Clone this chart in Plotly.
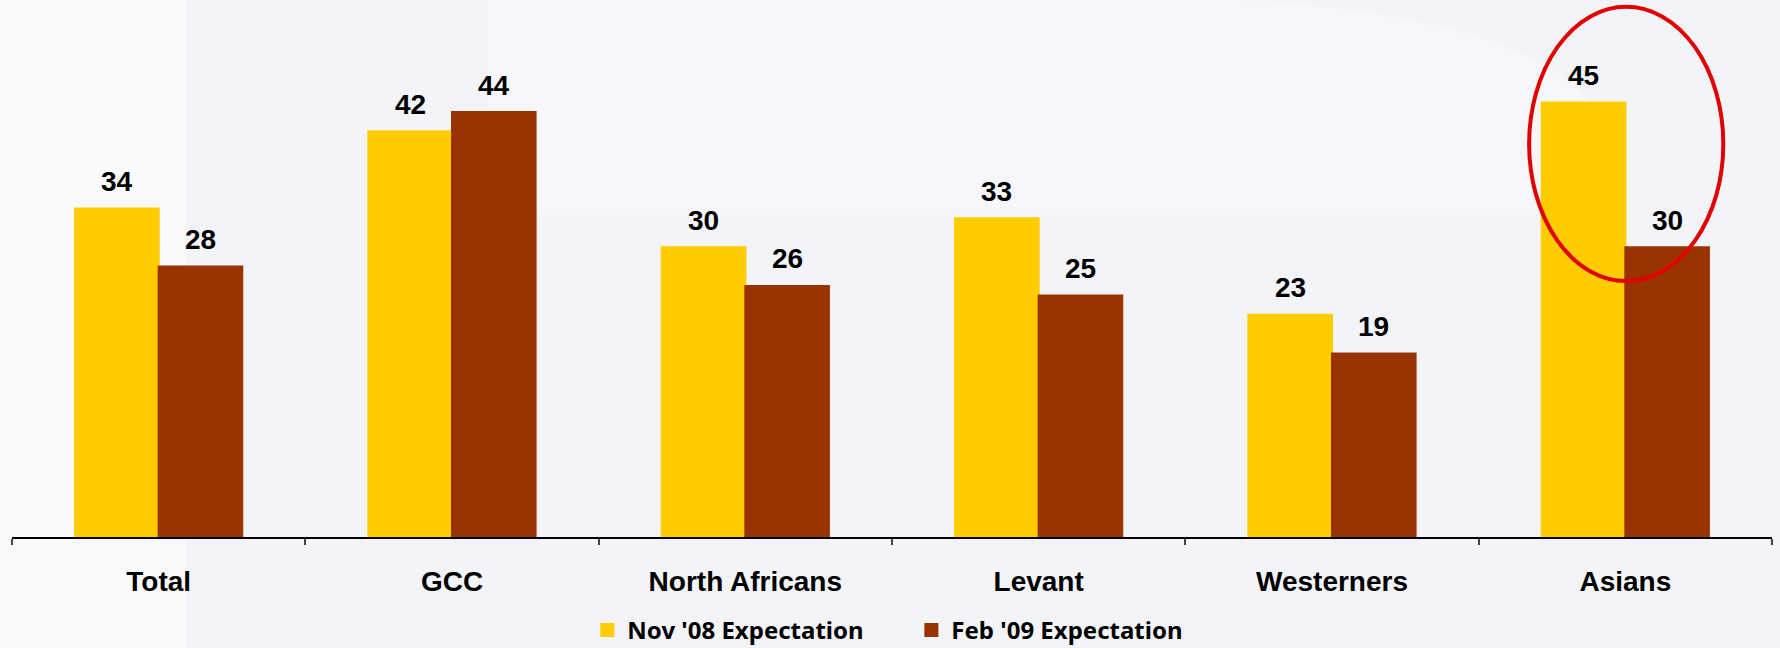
import plotly.graph_objects as go

categories = ["Total", "GCC", "North Africans", "Levant", "Westerners", "Asians"]
nov08 = [34, 42, 30, 33, 23, 45]
feb09 = [28, 44, 26, 25, 19, 30]
series_names = ["Nov '08 Expectation", "Feb '09 Expectation"]
colors = ["#FFCC00", "#993300"]

fig = go.Figure()
for name, vals, col in zip(series_names, [nov08, feb09], colors):
    fig.add_trace(go.Bar(
        x=categories, y=vals, name=name,
        marker=dict(color=col, line=dict(color=col, width=2)),
        hoverinfo="x+y",
    ))

# value labels
half = (1 - 0.43) / 4
for k, vals in enumerate([nov08, feb09]):
    off = -half if k == 0 else half
    for i, v in enumerate(vals):
        fig.add_annotation(
            x=i + off, y=v, text=str(v), showarrow=False,
            yanchor="middle", yshift=27,
            font=dict(family="Liberation Sans, Arial", size=28, color="black", weight="bold"),
        )

shapes = [
    # lighter background regions
    dict(type="rect", xref="paper", yref="paper", x0=-0.01, x1=0.099, y0=-0.3, y1=1.0,
         fillcolor="#f9fafc", line=dict(width=0), layer="below"),
    dict(type="path", xref="paper", yref="paper",
         path="M 0.27,1.0 L 0.70,1.0 Q 0.86,0.97 0.90,0.80 L 0.90,0.60 L 0.27,0.60 Z",
         fillcolor="#f6f7fa", line=dict(width=0), layer="below"),
    # highlight ellipse
    dict(type="circle", xref="x", yref="y", x0=4.672, x1=5.334, y0=26.5, y1=54.9,
         line=dict(color="#e30000", width=4), fillcolor="rgba(0,0,0,0)"),
]

fig.update_layout(
    width=1780, height=648,
    margin=dict(l=12, r=8, t=0, b=111, autoexpand=False),
    paper_bgcolor="#f2f4f8", plot_bgcolor="rgba(0,0,0,0)",
    barmode="group", bargap=0.43, bargroupgap=0,
    shapes=shapes,
    showlegend=True,
    legend=dict(orientation="h", x=0.511, xanchor="center", y=0.027, yanchor="middle",
                yref="container",
                font=dict(family="Noto Sans", size=24, color="black", weight="bold"),
                entrywidth=279, bgcolor="rgba(0,0,0,0)", traceorder="normal"),
    xaxis=dict(showline=True, linecolor="black", linewidth=2, automargin=False,
               ticks="outside", tickson="boundaries", ticklen=6, tickwidth=2, tickcolor="#444",
               ticklabelstandoff=18,
               tickfont=dict(family="Liberation Sans, Arial", size=28, color="black", weight="bold"),
               showgrid=False, zeroline=False),
    yaxis=dict(range=[0, 55.6], visible=False, showgrid=False, zeroline=False),
)

fig.write_html("out.html")
